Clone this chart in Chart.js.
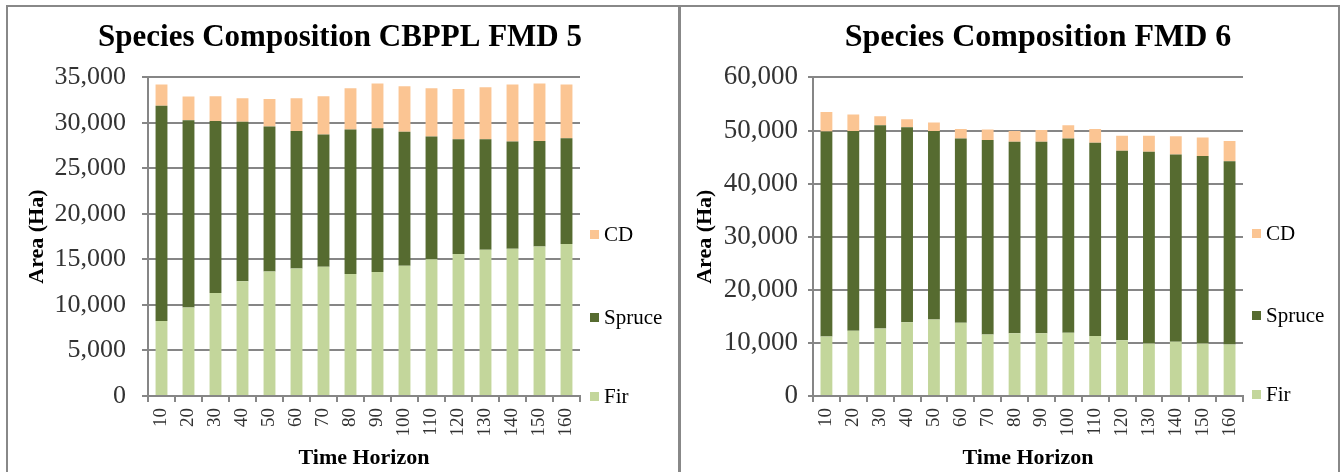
<!DOCTYPE html>
<html>
<head>
<meta charset="utf-8">
<script src="https://cdn.jsdelivr.net/npm/chart.js@4.4.1/dist/chart.umd.min.js"></script>
<style>
  body {
    margin: 0;
    width: 1344px;
    height: 472px;
    overflow: hidden;
    position: relative;
    background: #fff;
    font-family: "Liberation Serif", "Times New Roman", serif;
  }
  .panel {
    position: absolute;
    top: 5px;
    height: 480px;
    border: 2px solid #888;
    overflow: hidden;
    background: #fff;
  }
  #p1 { left: 6px; width: 670px; }
  #p2 { left: 679px; width: 657px; }
  canvas { position: absolute; left: 0; top: 0; }
  .item {
    position: absolute;
    height: 24px;
    line-height: 24px;
    font-size: 21px;
    color: #000;
    white-space: nowrap;
  }
  .item span {
    display: inline-block;
    width: 9px;
    height: 9px;
    margin-right: 5px;
    vertical-align: middle;
    position: relative;
    top: -2px;
  }
</style>
</head>
<body>
<div class="panel" id="p1"><canvas id="fmd5" width="664" height="490"></canvas></div>
<div class="panel" id="p2"><canvas id="fmd6" width="714" height="490"></canvas></div>
<script>
const horizons = ["10", "20", "30", "40", "50", "60", "70", "80", "90", "100", "110", "120", "130", "140", "150", "160"];
const seriesNames = ["Fir", "Spruce", "CD"];
const seriesColors = ["#c3d69b", "#566b30", "#fbc593"];

// CBPPL FMD 5 (ha)
const fmd5Fir = [8230, 9710, 11300, 12600, 13660, 14000, 14180, 13400, 13600, 14300, 15000, 15600, 16060, 16170, 16400, 16700];
const fmd5Spruce = [23640, 20570, 18900, 17500, 15940, 15100, 14520, 15850, 15800, 14700, 13500, 12600, 12140, 11780, 11600, 11600];
const fmd5Cd = [2330, 2590, 2700, 2600, 3000, 3600, 4200, 4550, 4900, 5000, 5300, 5500, 5700, 6250, 6300, 5900];

// FMD 6 (ha)
const fmd6Fir = [11200, 12300, 12700, 13900, 14400, 13800, 11600, 11800, 11800, 11900, 11300, 10500, 9900, 10200, 9900, 9700];
const fmd6Spruce = [38600, 37600, 38300, 36700, 35500, 34700, 36600, 36100, 36100, 36600, 36400, 35700, 36100, 35300, 35300, 34500];
const fmd6Cd = [3700, 3100, 1700, 1500, 1600, 1800, 2000, 2000, 2200, 2500, 2600, 2800, 3000, 3400, 3500, 3800];

const serif = "'Liberation Serif', 'Times New Roman', serif";
const axisGrey = "#868686";

function buildChart(id, o) {
  return new Chart(document.getElementById(id), {
    type: "bar",
    data: {
      labels: horizons,
      datasets: seriesNames.map((name, i) => ({
        label: name,
        data: o.values[i],
        backgroundColor: seriesColors[i],
        barPercentage: 0.44,
        categoryPercentage: 1,
        xAxisID: "x",
        yAxisID: "y",
      })),
    },
    options: {
      responsive: false,
      animation: false,
      layout: { padding: 0 },
      plugins: {
        legend: { display: false },
        tooltip: { enabled: false },
        title: {
          display: true,
          text: o.title,
          color: "#000",
          font: { family: serif, size: o.titleSize, weight: "bold" },
          padding: { top: o.titlePad[0], bottom: o.titlePad[1] },
        },
      },
      scales: {
        x: {
          stacked: true,
          grid: {
            offset: true,
            drawOnChartArea: false,
            color: axisGrey,
            lineWidth: 2,
            tickLength: 6,
          },
          border: { color: axisGrey, width: 2 },
          ticks: {
            autoSkip: false,
            minRotation: 90,
            maxRotation: 90,
            padding: 6,
            color: "#333",
            font: { family: serif, size: 19 },
          },
          title: {
            display: true,
            text: "Time Horizon",
            color: "#000",
            font: { family: serif, size: 22, weight: "bold" },
            padding: { top: 0, bottom: 25 },
          },
          afterFit: (s) => { s.height = 101; },
        },
        y: {
          stacked: true,
          min: 0,
          max: o.yMax,
          ticks: {
            stepSize: o.yStep,
            padding: o.tickPad,
            color: "#333",
            font: { family: serif, size: o.tickSize },
            callback: (v) => v.toLocaleString("en-US"),
          },
          grid: { color: axisGrey, lineWidth: 2, tickLength: o.tickLen },
          border: { color: axisGrey, width: 2 },
          title: {
            display: true,
            text: "Area (Ha)",
            color: "#000",
            font: { family: serif, size: 22, weight: "bold" },
            padding: { top: o.yTitlePad, bottom: 0 },
          },
          afterFit: (s) => { s.width = o.yWidth; },
        },
        // empty box on the right, leaves room for the legend
        pad: {
          type: "linear",
          position: "right",
          display: true,
          grid: { display: false },
          border: { display: false },
          ticks: { display: false },
          afterFit: (s) => { s.width = o.padWidth; },
        },
      },
    },
  });
}

function buildLegend(panelId, left, tops) {
  const panel = document.getElementById(panelId);
  // legend lists the top series first
  seriesNames.slice().reverse().forEach((name, i) => {
    const color = seriesColors[seriesNames.length - 1 - i];
    const div = document.createElement("div");
    div.className = "item";
    div.style.left = left + "px";
    div.style.top = tops[i] + "px";
    div.innerHTML = `<span style="background:${color}"></span>${name}`;
    panel.appendChild(div);
  });
}

buildChart("fmd5", {
  title: "Species Composition CBPPL FMD 5",
  titleSize: 31,
  titlePad: [12, 21],
  values: [fmd5Fir, fmd5Spruce, fmd5Cd],
  yMax: 35000,
  yStep: 5000,
  tickSize: 26,
  tickPad: 16,
  tickLen: 6,
  yTitlePad: 16,
  yWidth: 140,
  padWidth: 92,
});
buildChart("fmd6", {
  title: "Species Composition FMD 6",
  titleSize: 32,
  titlePad: [12, 20],
  values: [fmd6Fir, fmd6Spruce, fmd6Cd],
  yMax: 60000,
  yStep: 10000,
  tickSize: 27,
  tickPad: 10,
  tickLen: 5,
  yTitlePad: 11,
  yWidth: 132,
  padWidth: 152,
});
buildLegend("p1", 582, [215, 298, 377]);
buildLegend("p2", 571, [214, 296, 375]);
</script>
</body>
</html>
